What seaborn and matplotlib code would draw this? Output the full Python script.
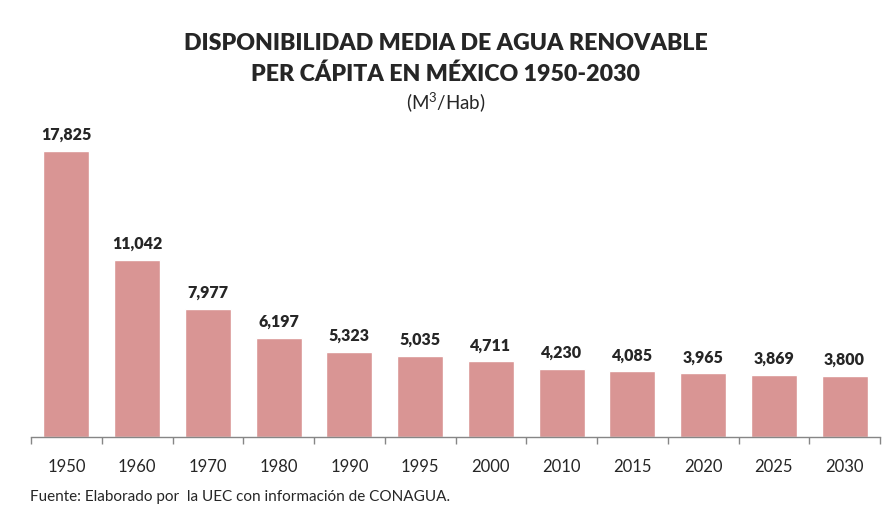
import matplotlib
matplotlib.use("Agg")
import matplotlib.pyplot as plt
import seaborn as sns
import pandas as pd

# datos
anios = ["1950", "1960", "1970", "1980", "1990", "1995", "2000", "2010", "2015", "2020", "2025", "2030"]
disponibilidad = [17825, 11042, 7977, 6197, 5323, 5035, 4711, 4230, 4085, 3965, 3869, 3800]

df = pd.DataFrame({"anio": anios, "valor": disponibilidad})

sns.set_style("white")
plt.rcParams["font.family"] = ["Lato", "DejaVu Sans"]
plt.rcParams["mathtext.default"] = "regular"

fig = plt.figure(figsize=(8.91, 5.22), dpi=100)
ax = fig.add_axes([31 / 891, 1 - 437 / 522, 849 / 891, 321 / 522])

sns.barplot(data=df, x="anio", y="valor", color="#D99594", saturation=1, width=0.65, ax=ax)

ax.set_ylim(0, 20000)
ax.set_xlim(-0.5, len(anios) - 0.5)
ax.set_xlabel("")
ax.set_ylabel("")
ax.set_yticks([])

for i, v in enumerate(disponibilidad):
    ax.text(i, v + 500, f"{v:,}", ha="center", va="bottom", fontsize=11.5, fontweight="heavy")

for s in ["top", "right", "left"]:
    ax.spines[s].set_visible(False)
ax.spines["bottom"].set_color("#868686")
ax.spines["bottom"].set_linewidth(1)

# marcas entre categorias
ax.set_xticks([i - 0.5 for i in range(len(anios) + 1)], minor=True)
ax.tick_params(axis="x", which="minor", bottom=True, length=5, color="#868686", width=1, direction="out")
ax.tick_params(axis="x", which="major", length=0, labelsize=12, pad=16)

fig.text(0.5, 1 - 44 / 522, "DISPONIBILIDAD MEDIA DE AGUA RENOVABLE", ha="center", va="center",
         fontsize=16.7, fontweight="heavy")
fig.text(0.5, 1 - 74 / 522, "PER CÁPITA EN MÉXICO 1950-2030", ha="center", va="center",
         fontsize=16.7, fontweight="heavy")
fig.text(0.5, 1 - 102 / 522, r"(M$^3$/Hab)", ha="center", va="center", fontsize=13.5)

fig.text(30 / 891, 1 - 497 / 522, "Fuente: Elaborado por  la UEC con información de CONAGUA.",
         ha="left", va="center", fontsize=11)

fig.savefig("out.png", dpi=100)
